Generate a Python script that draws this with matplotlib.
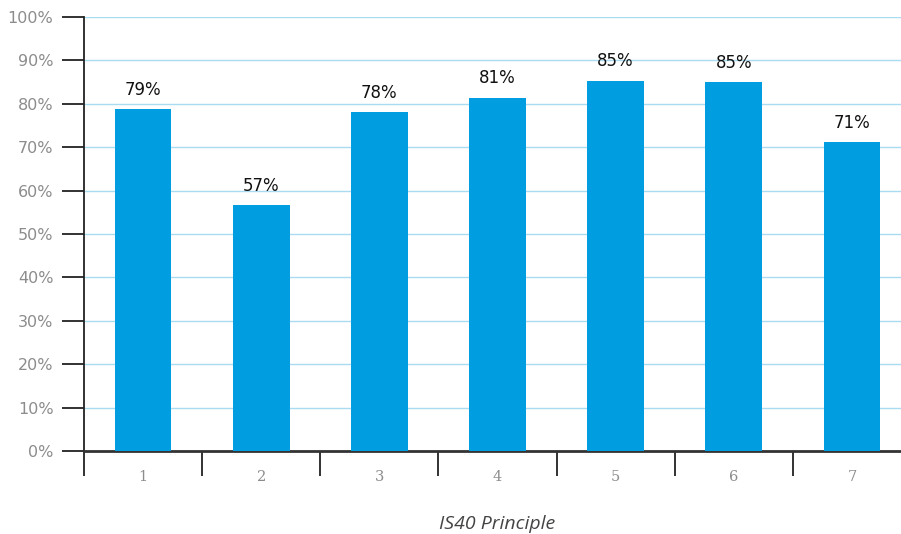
import matplotlib.pyplot as plt
import numpy as np
from matplotlib.ticker import FixedLocator, PercentFormatter

principles = ["1", "2", "3", "4", "5", "6", "7"]
shares = [78.8, 56.7, 78.1, 81.4, 85.3, 85.0, 71.2]
yticks = list(range(0, 101, 10))

bar_color = "#009ee0"
grid_color = "#a9dcf0"
gray = "#8c8c8c"

fig = plt.figure(figsize=(9.01, 5.34), dpi=100)
ax = fig.add_axes([84 / 901, 83 / 534, 827 / 901, 434 / 534])

x = np.arange(len(principles))
ax.bar(x, shares, width=0.48, color=bar_color, zorder=3)

for xi, v in zip(x, shares):
    ax.text(xi, v + 2.4, f"{v:.0f}%", ha="center", va="bottom",
            fontsize=12, color="#111111", family="DejaVu Sans")

ax.set_xlim(-0.5, len(principles) - 0.5)
ax.set_ylim(0, 100)

# y axis: light blue grid, ticks sticking out to the left
ax.set_yticks(yticks)
ax.yaxis.set_major_formatter(PercentFormatter(decimals=0))
ax.tick_params(axis="y", direction="out", length=16, width=1.3, color="#222222",
               pad=6, labelsize=11.5, labelcolor=gray)
ax.grid(axis="y", color=grid_color, linewidth=1, zorder=0)

# x axis: labels at centers, tick marks between categories
ax.set_xticks(x)
ax.set_xticklabels(principles, family="DejaVu Serif")
ax.tick_params(axis="x", which="major", length=0, pad=14, labelsize=10.5,
               labelcolor=gray)
ax.xaxis.set_minor_locator(FixedLocator(np.arange(-0.5, len(principles), 1.0)))
ax.tick_params(axis="x", which="minor", direction="out", length=18, width=1.3,
               color="#222222")

for side in ["top", "right"]:
    ax.spines[side].set_visible(False)
ax.spines["left"].set_linewidth(1.3)
ax.spines["left"].set_color("#222222")
ax.spines["bottom"].set_linewidth(2)
ax.spines["bottom"].set_color("#333333")

ax.set_xlabel("IS40 Principle", fontsize=14, style="italic", color="#444444",
              family="Open Sans", labelpad=22)

plt.savefig("out.png", dpi=100)
